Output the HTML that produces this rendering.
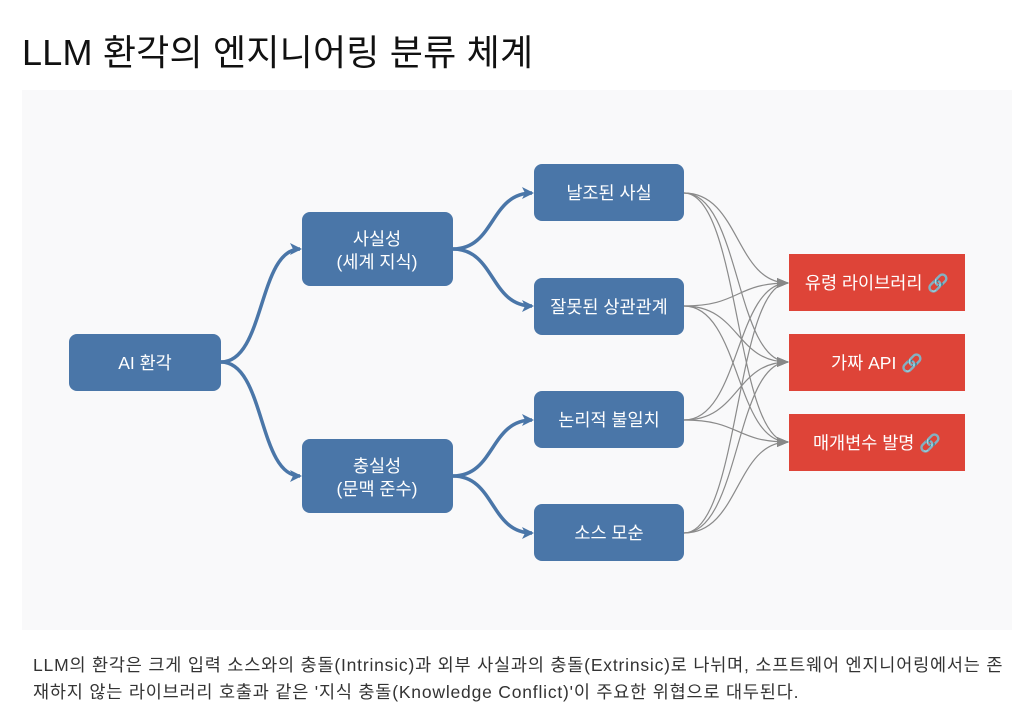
<!DOCTYPE html>
<html><head><meta charset="utf-8"><style>
body{margin:0;width:1024px;height:728px;background:#fff;font-family:"Liberation Sans","Noto Sans CJK KR",sans-serif;position:relative;overflow:hidden}
.t{position:absolute;left:22px;top:24px;font-size:36px;color:#111;letter-spacing:0.2px}
.bg{position:absolute;left:22px;top:90px;width:990px;height:540px;background:#f9f9fa}
.cap{position:absolute;left:33px;top:652px;font-size:17.5px;line-height:27px;color:#333;white-space:nowrap;letter-spacing:0.8px}
svg{position:absolute;left:0;top:0}
</style></head><body>
<div class="t">LLM 환각의 엔지니어링 분류 체계</div>
<div class="bg"></div>
<svg width="1024" height="728" font-family="Liberation Sans, Noto Sans CJK KR, sans-serif">
<defs>
<marker id="g" markerWidth="12" markerHeight="10" refX="11" refY="5" orient="auto" markerUnits="userSpaceOnUse"><path d="M0,0 L12,5 L0,10 z" fill="#888"/></marker>
</defs>
<g fill="none" stroke="#4a76a8" stroke-width="3.5">
<path d="M221,362 C265,362 258,249 300,249"/>
<path d="M221,362 C265,362 258,476 300,476"/>
<path d="M453,249 C495,249 490,193 532,193"/>
<path d="M453,249 C495,249 490,306 532,306"/>
<path d="M453,476 C495,476 490,420 532,420"/>
<path d="M453,476 C495,476 490,533 532,533"/>
</g>
<g fill="#4a76a8">
<path d="M302,249 l-12,-6 l3,6 l-3,6z"/><path d="M302,476 l-12,-6 l3,6 l-3,6z"/>
<path d="M534,193 l-12,-6 l3,6 l-3,6z"/><path d="M534,306 l-12,-6 l3,6 l-3,6z"/>
<path d="M534,420 l-12,-6 l3,6 l-3,6z"/><path d="M534,533 l-12,-6 l3,6 l-3,6z"/>
</g>
<g fill="none" stroke="#8a8a8a" stroke-width="1.2" marker-end="url(#g)">
<path d="M684,193 C740,193 735,283 788,283"/><path d="M684,193 C740,193 735,362 788,362"/><path d="M684,193 C740,193 735,442 788,442"/>
<path d="M684,306 C740,306 735,283 788,283"/><path d="M684,306 C740,306 735,362 788,362"/><path d="M684,306 C740,306 735,442 788,442"/>
<path d="M684,420 C740,420 735,283 788,283"/><path d="M684,420 C740,420 735,362 788,362"/><path d="M684,420 C740,420 735,442 788,442"/>
<path d="M684,533 C740,533 735,283 788,283"/><path d="M684,533 C740,533 735,362 788,362"/><path d="M684,533 C740,533 735,442 788,442"/>
</g>
<g fill="#4a76a8">
<rect x="69" y="334" width="152" height="57" rx="8"/>
<rect x="302" y="212" width="151" height="74" rx="8"/>
<rect x="302" y="439" width="151" height="74" rx="8"/>
<rect x="534" y="164" width="150" height="57" rx="8"/>
<rect x="534" y="278" width="150" height="57" rx="8"/>
<rect x="534" y="391" width="150" height="57" rx="8"/>
<rect x="534" y="504" width="150" height="57" rx="8"/>
</g>
<g fill="#de4438">
<rect x="789" y="254" width="176" height="57"/>
<rect x="789" y="334" width="176" height="57"/>
<rect x="789" y="414" width="176" height="57"/>
</g>
<g fill="#fff" font-size="17.5" text-anchor="middle">
<text x="145" y="369">AI 환각</text>
<text x="377" y="245">사실성</text><text x="377" y="268">(세계 지식)</text>
<text x="377" y="472">충실성</text><text x="377" y="495">(문맥 준수)</text>
<text x="609" y="199">날조된 사실</text>
<text x="609" y="313">잘못된 상관관계</text>
<text x="609" y="426">논리적 불일치</text>
<text x="609" y="539">소스 모순</text>
<text x="877" y="289">유령 라이브러리 <tspan fill="#bbb">🔗</tspan></text>
<text x="877" y="369">가짜 API <tspan fill="#bbb">🔗</tspan></text>
<text x="877" y="449">매개변수 발명 <tspan fill="#bbb">🔗</tspan></text>
</g>
</svg>
<div class="cap">LLM의 환각은 크게 입력 소스와의 충돌(Intrinsic)과 외부 사실과의 충돌(Extrinsic)로 나뉘며, 소프트웨어 엔지니어링에서는 존<br>재하지 않는 라이브러리 호출과 같은 '지식 충돌(Knowledge Conflict)'이 주요한 위협으로 대두된다.</div>
</body></html>
